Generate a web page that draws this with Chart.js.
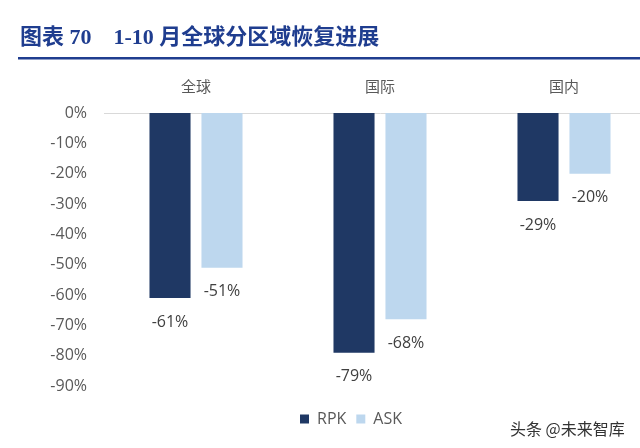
<!DOCTYPE html>
<html>
<head>
<meta charset="utf-8">
<script src="https://cdn.jsdelivr.net/npm/chart.js@4"></script>
<style>
  html, body { margin: 0; padding: 0; overflow: hidden; background: #fff; }
  #wrap { width: 658px; height: 448px; }
</style>
</head>
<body>
<div id="wrap"><canvas id="my_chart"></canvas></div>
<script>
// values (%)
var regions = ['全球', '国际', '国内']
var rpk = [-61, -79, -29]
var ask = [-51, -68, -20]
var y_ticks = [0, -10, -20, -30, -40, -50, -60, -70, -80, -90]

const sans = "'Open Sans', 'Noto Sans CJK SC', sans-serif"

// title, blue rule and watermark
const decor = {
  id: 'decor',
  beforeDraw(chart) {
    const c = chart.ctx
    c.save()
    c.fillStyle = '#1f3d8f'
    c.font = "bold 22px 'Liberation Serif', 'Noto Sans CJK SC', serif"
    c.textBaseline = 'middle'
    c.fillText('图表 70    1-10 月全球分区域恢复进展', 20, 38)
    c.fillRect(18, 57, chart.width, 2.5)
    c.fillStyle = '#333'
    c.font = "16px 'Noto Sans CJK SC', sans-serif"
    c.fillText('头条 @未来智库', 510, 429)
    c.restore()
  }
}

// value labels under each bar
const bar_labels = {
  id: 'bar_labels',
  afterDatasetsDraw(chart) {
    const c = chart.ctx
    c.save()
    c.font = '16px ' + sans
    c.fillStyle = '#404040'
    c.textAlign = 'center'
    c.textBaseline = 'middle'
    chart.data.datasets.forEach((ds, i) => {
      chart.getDatasetMeta(i).data.forEach((bar, j) => {
        c.fillText(ds.data[j] + '%', bar.x, bar.y + 24)
      })
    })
    c.restore()
  }
}

ctx = document.getElementById('my_chart').getContext('2d')
my_chart = new Chart(ctx, {
  type: 'bar',
  data: {
    labels: regions,
    datasets: [
      { label: 'RPK', data: rpk, backgroundColor: '#1f3864' },
      { label: 'ASK', data: ask, backgroundColor: '#bdd7ee' }
    ]
  },
  options: {
    responsive: true,
    maintainAspectRatio: false,
    animation: false,
    layout: { padding: { top: 58, left: 46, right: 2, bottom: 11 } },
    datasets: { bar: { categoryPercentage: 0.565, barPercentage: 0.79 } },
    scales: {
      x: {
        position: 'top',
        grid: { display: false, drawTicks: false },
        border: { display: true, color: '#d9d9d9', width: 1 },
        ticks: { color: '#595959', padding: 18, font: { size: 15, family: "'Noto Sans CJK SC', sans-serif" } },
        afterFit(scale) { scale.height = 55 }
      },
      x2: {
        type: 'category',
        labels: regions,
        position: 'bottom',
        grid: { display: false, drawTicks: false },
        border: { display: false },
        ticks: { display: false },
        afterFit(scale) { scale.height = 15 }
      },
      y: {
        min: -90,
        max: 0,
        grid: { display: false, drawTicks: false },
        border: { display: false },
        afterBuildTicks(scale) { scale.ticks = y_ticks.map(v => ({ value: v })) },
        ticks: {
          color: '#595959',
          padding: 17,
          font: { size: 16, family: sans },
          callback: v => v + '%'
        },
        afterFit(scale) { scale.width = 58 }
      }
    },
    plugins: {
      legend: {
        position: 'bottom',
        labels: {
          color: '#595959',
          boxWidth: 9,
          boxHeight: 9,
          padding: 10,
          font: { size: 16, family: sans }
        }
      },
      tooltip: { enabled: false }
    }
  },
  plugins: [decor, bar_labels]
})
</script>
</body>
</html>
